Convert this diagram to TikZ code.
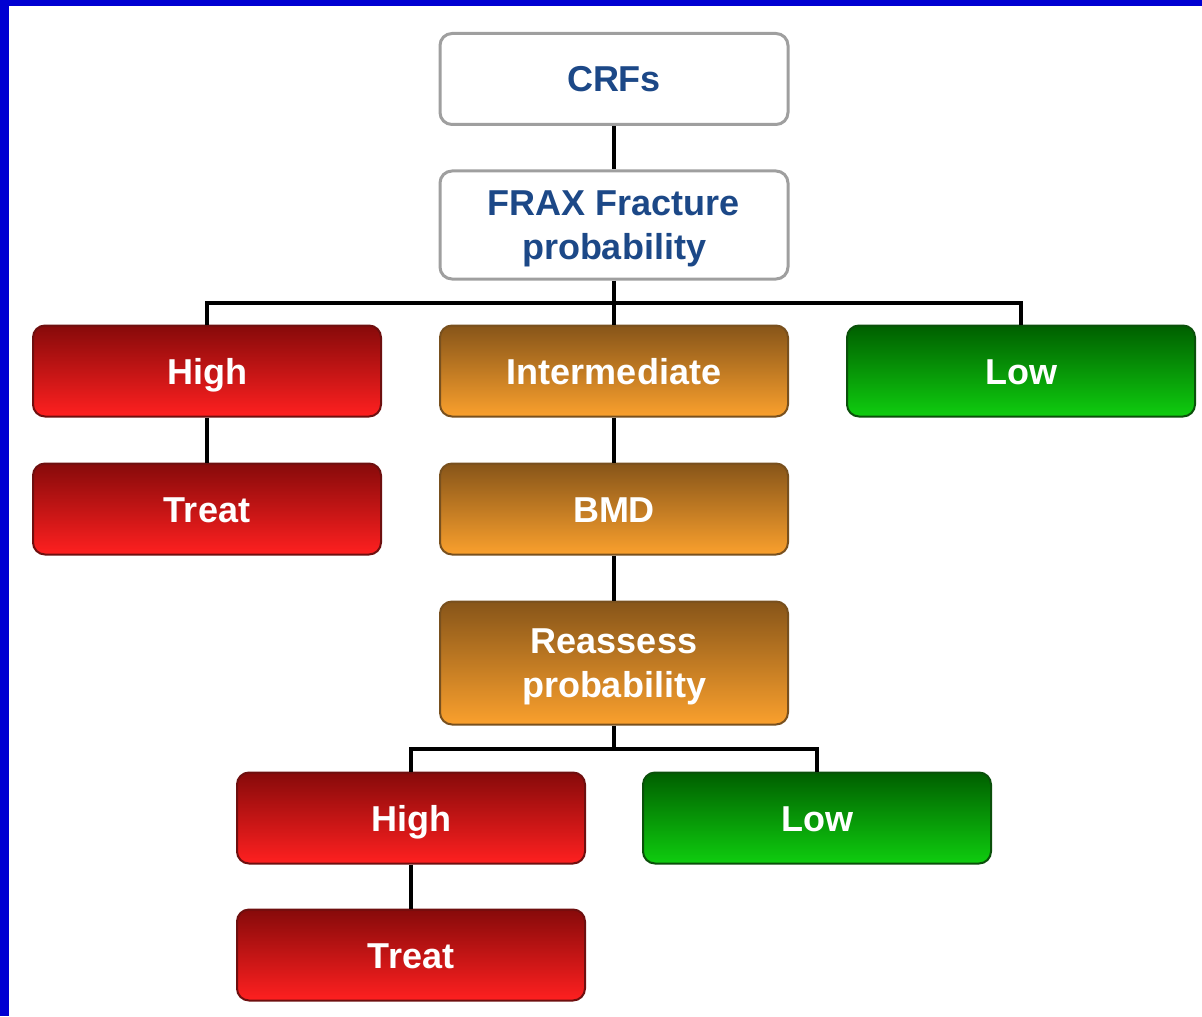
\documentclass[tikz,border=0pt]{standalone}
\usepackage{fontspec}
\setmainfont{Liberation Sans}
\usetikzlibrary{calc}

\definecolor{framebl}{RGB}{0,0,210}
\definecolor{crfblue}{RGB}{28,72,135}
\definecolor{redtop}{RGB}{135,10,10}
\definecolor{redbot}{RGB}{255,32,32}
\definecolor{redline}{RGB}{110,15,15}
\definecolor{orgtop}{RGB}{135,85,25}
\definecolor{orgbot}{RGB}{250,160,45}
\definecolor{orgline}{RGB}{120,80,30}
\definecolor{grntop}{RGB}{0,95,0}
\definecolor{grnbot}{RGB}{15,205,15}
\definecolor{grnline}{RGB}{10,80,10}

\begin{document}
\begin{tikzpicture}[x=0.5pt,y=-0.5pt,
	box/.style={rounded corners=6pt, minimum width=174pt, minimum height=45.5pt, inner sep=2pt, align=center,
		font=\fontsize{18}{22}\selectfont\bfseries, line width=1pt, text depth=0pt},
	oneline/.style={text height=13pt},
	whitebox/.style={box, draw=gray!75, line width=1.5pt, fill=white, text=crfblue},
	redbox/.style={box, oneline, draw=redline, top color=redtop, bottom color=redbot, text=white},
	orgbox/.style={box, draw=orgline, top color=orgtop, bottom color=orgbot, text=white},
	grnbox/.style={box, oneline, draw=grnline, top color=grntop, bottom color=grnbot, text=white},
	link/.style={line width=2pt, black}]
	
	\useasboundingbox (0,0) rectangle (1202,1016);
	\fill[framebl] (0,0) rectangle (1202,6);
	\fill[framebl] (0,0) rectangle (9,1016);
	
	% top of the tree
	\node[whitebox, oneline] (crfs) at (614,79) {CRFs};
	\node[whitebox, minimum height=54pt] (frax) at (614,225) {FRAX Fracture\\probability};
	
	\node[redbox] (high) at (207,371) {High};
	\node[orgbox, oneline] (inter) at (614,371) {Intermediate};
	\node[grnbox] (low) at (1021,371) {Low};
	
	\node[redbox] (treat) at (207,509) {Treat};
	\node[orgbox, oneline] (bmd) at (614,509) {BMD};
	\node[orgbox, minimum height=61.5pt] (reass) at (614,663) {Reassess\\probability};
	
	% second split
	\node[redbox] (highb) at (411,818) {High};
	\node[grnbox] (lowb) at (817,818) {Low};
	\node[redbox] (treatb) at (411,955) {Treat};
	
	\coordinate (splita) at (614,303);
	\coordinate (splitb) at (614,749);
	
	\draw[link] (crfs) -- (frax);
	\draw[link] (frax) -- (splita);
	\draw[link] (splita) -| (high);
	\draw[link] (splita) -| (low);
	\draw[link] (splita) -- (inter);
	\draw[link] (high) -- (treat);
	\draw[link] (inter) -- (bmd);
	\draw[link] (bmd) -- (reass);
	\draw[link] (reass) -- (splitb);
	\draw[link] (splitb) -| (highb);
	\draw[link] (splitb) -| (lowb);
	\draw[link] (highb) -- (treatb);
\end{tikzpicture}
\end{document}
